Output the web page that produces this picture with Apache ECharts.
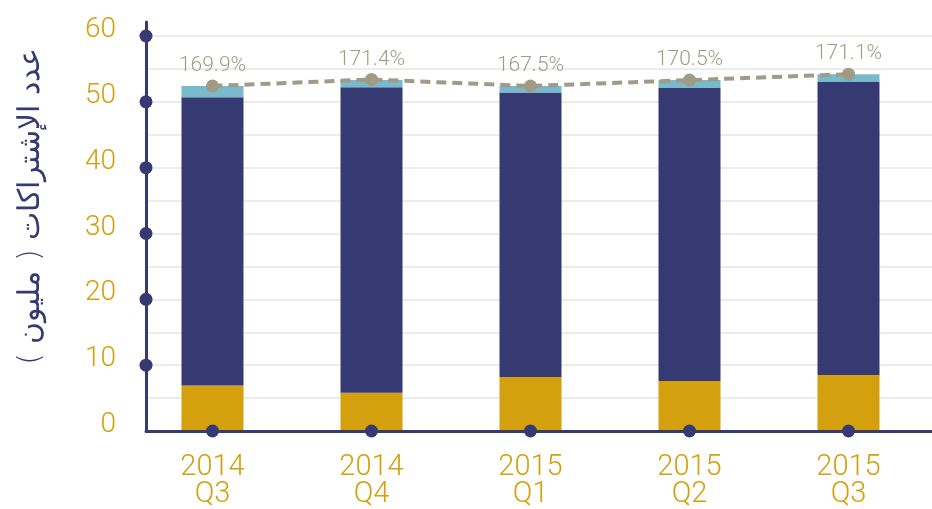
<!DOCTYPE html>
<html>
<head>
<meta charset="utf-8">
<script src="https://cdn.jsdelivr.net/npm/echarts@6/dist/echarts.min.js"></script>
<style>
html, body { margin: 0; padding: 0; background: #fff; }
#chart { width: 932px; height: 509px; }
</style>
</head>
<body>
<div id="chart"></div>
<script>
// data
const quarters = ['2014\nQ3', '2014\nQ4', '2015\nQ1', '2015\nQ2', '2015\nQ3'];
const goldValues = [6.9, 5.8, 8.2, 7.6, 8.5];
const navyValues = [43.8, 46.4, 43.2, 44.5, 44.5];
const blueValues = [1.7, 1.1, 1.0, 1.2, 1.2];
const linePoints = [52.4, 53.4, 52.4, 53.3, 54.2];
const lineLabels = ['169.9%', '171.4%', '167.5%', '170.5%', '171.1%'];
const yTicks = [10, 20, 30, 40, 50, 60];
const yTitle = 'عدد الإشتراكات ( مليون )';

const NAVY = '#363a72';
const GOLD = '#d4a00e';
const BLUE = '#78b9cb';
const GREY = '#a19b86';

const chart = echarts.init(document.getElementById('chart'), null, { renderer: 'canvas' });

const option = {
    backgroundColor: '#fff',
    animation: false,
    grid: [
        // 0: gridlines, y labels, y dots
        { left: 146, right: 0, top: 36, bottom: 78 },
        // 1: the two axis lines (y line runs a bit above 60)
        { left: 146, right: 0, top: 22, bottom: 78 },
        // 2: bars and line
        { left: 133, width: 795, top: 36, bottom: 78 }
    ],
    xAxis: [
        { gridIndex: 0, type: 'value', min: 0, max: 1, show: false },
        {
            gridIndex: 1, type: 'value', min: 0, max: 1, z: 5,
            axisLine: { show: true, lineStyle: { color: NAVY, width: 3 } },
            axisTick: { show: false }, axisLabel: { show: false }, splitLine: { show: false }
        },
        {
            gridIndex: 2, type: 'category', data: quarters,
            axisLine: { show: false }, axisTick: { show: false },
            axisLabel: {
                color: GOLD, fontFamily: 'Roboto', fontSize: 29, fontWeight: 300,
                lineHeight: 27, margin: 23
            }
        }
    ],
    yAxis: [
        {
            gridIndex: 0, type: 'value', min: 0, max: 60, interval: 5,
            axisLine: { show: false }, axisTick: { show: false },
            axisLabel: {
                color: GOLD, fontFamily: 'Roboto', fontSize: 28, fontWeight: 300,
                margin: 30, verticalAlign: 'bottom', lineHeight: 12,
                formatter: v => (v % 10 === 0 ? v : '')
            },
            splitLine: { lineStyle: { color: '#e6e6e6', width: 1.5 } }
        },
        {
            gridIndex: 1, type: 'value', min: 0, max: 62.1, z: 5,
            axisLine: { show: true, lineStyle: { color: NAVY, width: 3 } },
            axisTick: { show: false }, axisLabel: { show: false }, splitLine: { show: false },
            name: yTitle, nameLocation: 'middle', nameRotate: 90, nameGap: 100,
            nameTextStyle: {
                color: NAVY, fontFamily: 'DejaVu Sans', fontSize: 30, fontWeight: 300,
                padding: [0, 0, 0, 40]
            }
        },
        { gridIndex: 2, type: 'value', min: 0, max: 60, show: false }
    ],
    series: [
        {
            type: 'bar', xAxisIndex: 2, yAxisIndex: 2, stack: 'subs', barWidth: 62,
            itemStyle: { color: GOLD }, data: goldValues
        },
        {
            type: 'bar', xAxisIndex: 2, yAxisIndex: 2, stack: 'subs', barWidth: 62,
            itemStyle: { color: NAVY }, data: navyValues
        },
        {
            type: 'bar', xAxisIndex: 2, yAxisIndex: 2, stack: 'subs', barWidth: 62,
            itemStyle: { color: BLUE }, data: blueValues
        },
        {
            type: 'line', xAxisIndex: 2, yAxisIndex: 2, z: 6,
            symbol: 'circle', symbolSize: 13,
            itemStyle: { color: GREY },
            lineStyle: { color: GREY, width: 4, type: [10, 6] },
            label: {
                show: true, position: 'top', distance: 3,
                color: GREY, fontFamily: 'Roboto', fontSize: 21, fontWeight: 300,
                formatter: p => lineLabels[p.dataIndex]
            },
            data: linePoints
        },
        {
            // dots on the x axis
            type: 'scatter', xAxisIndex: 2, yAxisIndex: 2, z: 7, clip: false,
            symbolSize: 13, itemStyle: { color: NAVY, opacity: 1 },
            data: quarters.map(q => [q, 0])
        },
        {
            // dots on the y axis
            type: 'scatter', xAxisIndex: 0, yAxisIndex: 0, z: 7, clip: false,
            symbolSize: 13, itemStyle: { color: NAVY, opacity: 1 },
            data: yTicks.map(v => [0, v])
        }
    ]
};

chart.setOption(option);
</script>
</body>
</html>
